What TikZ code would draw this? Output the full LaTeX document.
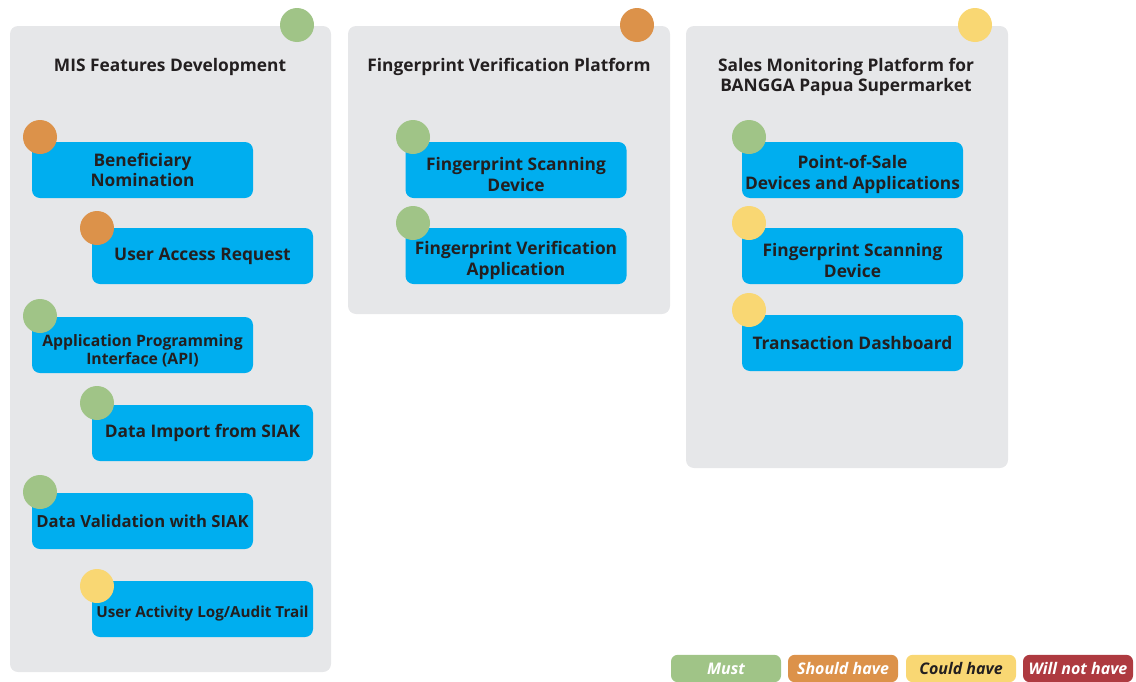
\documentclass[tikz,border=0pt]{standalone}
\usepackage{fontspec}
\setmainfont{Open Sans}
\usetikzlibrary{positioning}

\definecolor{panelgray}{HTML}{E6E7E9}
\definecolor{featblue}{HTML}{00AEEF}
\definecolor{mustgreen}{HTML}{A0C487}
\definecolor{shouldorange}{HTML}{DC924A}
\definecolor{couldyellow}{HTML}{F9D773}
\definecolor{wontred}{HTML}{AE3A40}
\definecolor{inkdark}{HTML}{231F20}
\newcommand{\dropline}[1][17pt]{\rule{0pt}{#1}}

\begin{document}
\begin{tikzpicture}[x=0.75pt,y=-0.75pt,
    panel/.style={fill=panelgray,rounded corners=6pt},
    ptitle/.style={align=center,text=inkdark,font=\bfseries\fontsize{13}{15}\selectfont},
    feat/.style={fill=featblue,rounded corners=6pt,minimum width=165.75pt,minimum height=42pt,
        inner sep=1pt,align=center,text=inkdark,font=\bfseries\fontsize{13}{15.5}\selectfont},
    small/.style={font=\bfseries\fontsize{11.8}{13.8}\selectfont},
    dot/.style={circle,minimum size=25.5pt,inner sep=0pt},
    tag/.style={rounded corners=5pt,minimum width=82.5pt,minimum height=20.5pt,inner sep=0pt,
        font=\bfseries\itshape\fontsize{12}{14}\selectfont}]
    \useasboundingbox (0,0) rectangle (1136,682);
    % panels
    \fill[panel] (10,26) rectangle (331,672);
    \fill[panel] (348,26) rectangle (670,314);
    \fill[panel] (686,26) rectangle (1008,468);
    \node[dot,fill=mustgreen] (mis) at (297,25) {};
    \node[dot,fill=shouldorange] (fvp) at (637,25) {};
    \node[dot,fill=couldyellow] (smp) at (975,25) {};
    \node[ptitle] (mist) at (170,67) {MIS Features Development};
    \node[ptitle] (fvpt) at (509,67) {Fingerprint Verification Platform};
    \node[ptitle] (smpt) at (846,77) {Sales Monitoring Platform for\\BANGGA Papua Supermarket};
    % MIS features
    \node[feat] (benef) at (142.5,170) {Beneficiary\\Nomination};
    \node[feat] (uar) at (202.5,256) {User Access Request};
    \node[feat,small] (api) at (142.5,345) {\dropline[18pt]Application Programming\\Interface (API)};
    \node[feat] (imp) at (202.5,433) {Data Import from SIAK};
    \node[feat,font=\bfseries\fontsize{12.5}{15}\selectfont] (val) at (142.5,521) {Data Validation with SIAK};
    \node[feat,font=\bfseries\fontsize{11.4}{13.5}\selectfont] (log) at (202.5,609) {\dropline[15pt]User Activity Log/Audit Trail};
    \node[dot,fill=shouldorange] (benefd) at (40,137) {};
    \node[dot,fill=shouldorange] (uard) at (97,228) {};
    \node[dot,fill=mustgreen] (apid) at (40,316) {};
    \node[dot,fill=mustgreen] (impd) at (97,403) {};
    \node[dot,fill=mustgreen] (vald) at (40,492) {};
    \node[dot,fill=couldyellow] (logd) at (97,586) {};
    % fingerprint platform
    \node[feat] (scan) at (516,170) {\dropline Fingerprint Scanning\\Device};
    \node[feat] (verif) at (516,256) {\dropline Fingerprint Verification\\Application};
    \node[dot,fill=mustgreen] (scand) at (413,137) {};
    \node[dot,fill=mustgreen] (verifd) at (413,223) {};
    % sales monitoring
    \node[feat] (pos) at (852.5,170) {\dropline Point-of-Sale\\Devices and Applications};
    \node[feat] (scan2) at (852.5,256) {\dropline Fingerprint Scanning\\Device};
    \node[feat] (dash) at (852.5,343) {Transaction Dashboard};
    \node[dot,fill=mustgreen] (posd) at (749,137) {};
    \node[dot,fill=couldyellow] (scan2d) at (749,223) {};
    \node[dot,fill=couldyellow] (dashd) at (749,310) {};
    % legend
    \foreach \lx/\lc/\lt/\ltc [count=\i] in {671/mustgreen/Must/white,788/shouldorange/Should have/white,
        906/couldyellow/Could have/inkdark,1023/wontred/Will not have/white}{
        \node[tag,fill=\lc,text=\ltc] (tag\i) at (\lx+55,668.5) {\lt};
    }
\end{tikzpicture}
\end{document}
